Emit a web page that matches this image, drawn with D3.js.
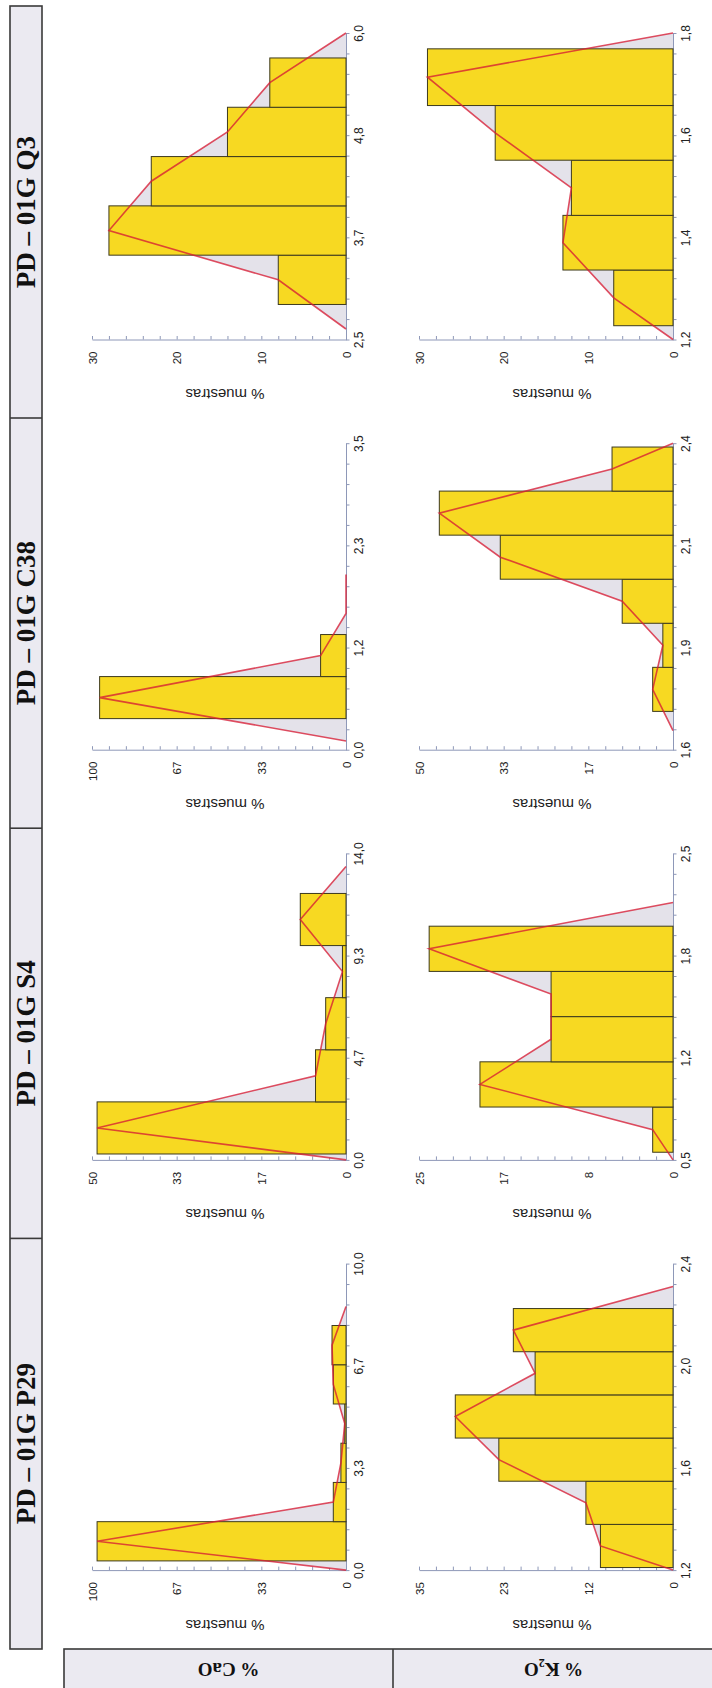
<!DOCTYPE html>
<html><head><meta charset="utf-8">
<script src="https://cdn.jsdelivr.net/npm/d3@7"></script>
<style>body{margin:0;background:#fff}</style>
</head><body>
<script>
// ---------- DATA (original page order, left to right) ----------
const titles = ["PD – 01G P29", "PD – 01G S4", "PD – 01G C38", "PD – 01G Q3"];
const rowLabels = ["% CaO", "% K₂O"];
const axisTitle = "% muestras";

// % CaO row
const caoDomains = [[0, 10], [0, 14], [0, 3.5], [2.5, 6.0]];
const caoXTickLabels = [["0,0","3,3","6,7","10,0"], ["0,0","4,7","9,3","14,0"], ["0,0","1,2","2,3","3,5"], ["2,5","3,7","4,8","6,0"]];
const caoYMax = [100, 50, 100, 30];
const caoYTickLabels = [["0","33","67","100"], ["0","17","33","50"], ["0","33","67","100"], ["0","10","20","30"]];
const caoBinEdges = [[0.3,1.58,2.86,4.14,5.42,6.70,7.98], [0.27,2.65,5.03,7.41,9.79,12.17], [0.355,0.835,1.315,1.795], [2.9,3.463,4.026,4.589,5.152,5.715]];
const caoValues = [[98,5,2,0.5,5,5.5], [49,6,4,0.7,9], [97,10,0], [8,28,23,14,9]];
const caoPolyEnds = [[0,8.6], [0,13.4], [0.1,2.0], [2.62,6.0]];

// % K2O row
const k2oDomains = [[1.2, 2.4], [0.5, 2.5], [1.6, 2.4], [1.2, 1.8]];
const k2oXTickLabels = [["1,2","1,6","2,0","2,4"], ["0,5","1,2","1,8","2,5"], ["1,6","1,9","2,1","2,4"], ["1,2","1,4","1,6","1,8"]];
const k2oYMax = [35, 25, 50, 30];
const k2oYTickLabels = [["0","12","23","35"], ["0","8","17","25"], ["0","17","33","50"], ["0","10","20","30"]];
const k2oBinEdges = [[1.21,1.379,1.548,1.717,1.886,2.055,2.224], [0.55,0.845,1.14,1.435,1.73,2.025], [1.70,1.815,1.93,2.045,2.16,2.275,2.39], [1.227,1.336,1.443,1.551,1.658,1.769]];
const k2oValues = [[10,12,24,30,19,22], [2,19,12,12,24], [4,2,10,34,46,12], [7,13,12,21,29]];
const k2oPolyEnds = [[1.2,2.31], [0.5,2.18], [1.65,2.4], [1.2,1.8]];

// ---------- LAYOUT (page is rotated 90° CCW) ----------
const W = 712, H = 1688;
const slotStep = 410.2;
const catBottom0 = 339.5, catTop0 = 33;
const rowValueRange = [[346, 92], [673, 419]];   // value 0 -> max (image x)
const headerX = [10, 42], headerY = [6, 1649];
const tableTop = 1649, tableLeft = 64, tableDivider = 393;

const svg = d3.select("body").append("svg").attr("width", W).attr("height", H)
  .style("font-family", "'Liberation Sans', Arial, sans-serif");

const AXIS = "#8e98b8";
const YELLOW = "#f7d922";
const GREY = "#e4e2ea";

// header strip with titles
const header = svg.append("g");
header.append("rect").attr("x", headerX[0]).attr("y", headerY[0])
  .attr("width", headerX[1]-headerX[0]).attr("height", headerY[1]-headerY[0])
  .attr("fill", "#ebeaf1").attr("stroke", "#3a3a3a").attr("stroke-width", 1.6);
titles.forEach((t, i) => {
  const s = titles.length - 1 - i;
  const top = s === 0 ? headerY[0] : 418 + slotStep*(s-1);
  const bot = s === 3 ? headerY[1] : 418 + slotStep*s;
  if (s < 3) header.append("line").attr("x1", headerX[0]).attr("x2", headerX[1])
      .attr("y1", bot).attr("y2", bot).attr("stroke", "#3a3a3a").attr("stroke-width", 1.6);
  header.append("text")
    .attr("transform", `translate(${(headerX[0]+headerX[1])/2},${(top+bot)/2}) rotate(-90)`)
    .attr("text-anchor", "middle").attr("dominant-baseline", "central")
    .style("font-family", "'Liberation Serif', 'Times New Roman', serif")
    .style("font-weight", "bold").style("font-size", "27px").attr("fill", "#111")
    .text(t);
});

// bottom table with row labels
const table = svg.append("g");
table.append("rect").attr("x", tableLeft).attr("y", tableTop).attr("width", W + 4 - tableLeft).attr("height", 60)
  .attr("fill", "#ebeaf1").attr("stroke", "#3a3a3a").attr("stroke-width", 1.6);
table.append("line").attr("x1", tableDivider).attr("x2", tableDivider).attr("y1", tableTop).attr("y2", H)
  .attr("stroke", "#3a3a3a").attr("stroke-width", 1.6);
const cellCenters = [(tableLeft + tableDivider)/2, (tableDivider + W + 2)/2];
rowLabels.forEach((lab, r) => {
  const txt = table.append("text")
    .attr("transform", `translate(${cellCenters[r]},${tableTop + 21}) rotate(180)`)
    .attr("text-anchor", "middle").attr("dominant-baseline", "central")
    .style("font-family", "'Liberation Serif', 'Times New Roman', serif")
    .style("font-weight", "bold").style("font-size", "19px").attr("fill", "#111");
  const parts = lab.split("₂");
  txt.append("tspan").text(parts[0]);
  if (parts.length > 1) {
    txt.append("tspan").attr("baseline-shift", "sub").style("font-size", "12px").text("2");
    txt.append("tspan").text(parts[1]);
  }
});

// panels
const rows = [
  {domains: caoDomains, xl: caoXTickLabels, ymax: caoYMax, yl: caoYTickLabels, edges: caoBinEdges, vals: caoValues, ends: caoPolyEnds},
  {domains: k2oDomains, xl: k2oXTickLabels, ymax: k2oYMax, yl: k2oYTickLabels, edges: k2oBinEdges, vals: k2oValues, ends: k2oPolyEnds}
];

rows.forEach((row, r) => {
  titles.forEach((_, i) => {
    const s = titles.length - 1 - i;
    const yBottom = catBottom0 + slotStep*s, yTop = catTop0 + slotStep*s;
    const dom = row.domains[i];
    const ymax = row.ymax[i];
    const cat = d3.scaleLinear().domain(dom).range([yBottom, yTop]);
    const val = d3.scaleLinear().domain([0, ymax]).range(rowValueRange[r]);
    const g = svg.append("g");

    // value axis (horizontal in picture)
    const vTicks = d3.range(16).map(k => k*ymax/15);
    const gv = g.append("g").attr("transform", `translate(0,${yBottom})`)
      .call(d3.axisBottom(val).tickValues(vTicks).tickSizeInner(-3.5).tickSizeOuter(0).tickPadding(12)
        .tickFormat((d, k) => k % 5 === 0 ? row.yl[i][k/5] : ""));
    gv.select(".domain").attr("stroke", AXIS);
    gv.selectAll(".tick line").attr("stroke", AXIS);
    gv.selectAll(".tick text").attr("y", null).attr("dy", "0.35em")
      .attr("transform", "translate(0,12) rotate(-90)").attr("text-anchor", "end")
      .style("font-size", "11.5px").attr("fill", "#222");

    // category axis (vertical in picture)
    const cTicks = d3.range(16).map(k => dom[0] + k*(dom[1]-dom[0])/15);
    const gc = g.append("g").attr("transform", `translate(${rowValueRange[r][0]},0)`)
      .call(d3.axisRight(cat).tickValues(cTicks).tickSizeInner(3.5).tickSizeOuter(0).tickPadding(12)
        .tickFormat((d, k) => k % 5 === 0 ? row.xl[i][k/5] : ""));
    gc.select(".domain").attr("stroke", AXIS);
    gc.selectAll(".tick line").attr("stroke", AXIS);
    gc.selectAll(".tick text").attr("x", null).attr("dy", "0.35em")
      .attr("transform", "translate(13,0) rotate(-90)").attr("text-anchor", "middle")
      .style("font-size", "12px").attr("fill", "#222");

    // axis title
    g.append("text")
      .attr("transform", `translate(${(rowValueRange[r][0]+rowValueRange[r][1])/2 + 6},${yBottom + 55}) rotate(180)`)
      .attr("text-anchor", "middle").attr("dominant-baseline", "central")
      .style("font-size", "15px").attr("fill", "#222").text(axisTitle);

    // frequency polygon
    const edges = row.edges[i], vals = row.vals[i];
    const pts = [[row.ends[i][0], 0]]
      .concat(vals.map((v, k) => [(edges[k] + edges[k+1]) / 2, v]))
      .concat([[row.ends[i][1], 0]]);
    const line = d3.line().x(d => val(d[1])).y(d => cat(d[0]));
    g.append("path").attr("d", line(pts) + "Z").attr("fill", GREY).attr("stroke", "none");

    // bars
    g.selectAll("rect.bar").data(vals.map((v, k) => ({v, a: edges[k], b: edges[k+1]})).filter(d => d.v > 0))
      .join("rect").attr("class", "bar")
      .attr("x", d => val(d.v)).attr("width", d => val(0) - val(d.v))
      .attr("y", d => cat(d.b)).attr("height", d => cat(d.a) - cat(d.b))
      .attr("fill", YELLOW).attr("stroke", "#3d3a1e").attr("stroke-width", 1);

    // red polygon line
    g.append("path").attr("d", line(pts)).attr("fill", "none")
      .attr("stroke", "rgba(214,28,52,0.78)").attr("stroke-width", 1.6);
  });
});
</script>
</body></html>
